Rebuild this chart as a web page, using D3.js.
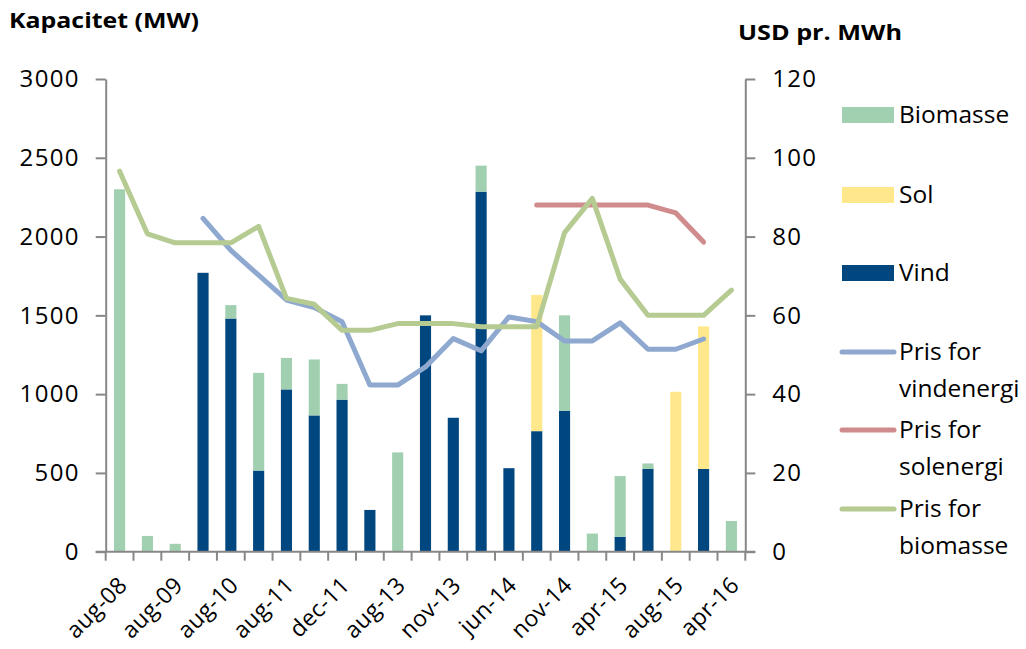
<!DOCTYPE html>
<html>
<head>
<meta charset="utf-8">
<script src="https://cdn.jsdelivr.net/npm/d3@7"></script>
<style>
  body { margin: 0; background: #fff; }
  svg { display: block; }
  text { font-family: "Open Sans", Lato, sans-serif; fill: #000; }
</style>
</head>
<body>
<svg id="chart" width="1026" height="649"></svg>
<script>
// Period labels shown on the x axis (every second period is labelled)
const tickLabels = ["aug-08", "aug-09", "aug-10", "aug-11", "dec-11", "aug-13",
                    "nov-13", "jun-14", "nov-14", "apr-15", "aug-15", "apr-16"];

// Installed capacity per period (MW)
const vind     = [0, 0, 0, 1770, 1480, 515, 1030, 865, 965, 265, 0, 1500, 850, 2285, 530, 765, 895, 0, 95, 525, 0, 525, 0];
const sol      = [0, 0, 0, 0, 0, 0, 0, 0, 0, 0, 0, 0, 0, 0, 0, 865, 0, 0, 0, 0, 1015, 905, 0];
const biomasse = [2300, 100, 50, 0, 85, 620, 200, 355, 100, 0, 630, 0, 0, 165, 0, 0, 605, 115, 385, 35, 0, 0, 195];

// Prices (USD per MWh)
const prisVind = [null, null, null, 84.6, 76.5, 70.2, 63.9, 62.0, 58.4, 42.3, 42.3, 46.9, 54.1, 51.0, 59.6, 58.4, 53.5, 53.5, 58.1, 51.4, 51.4, 54.0, null];
const prisSol  = [null, null, null, null, null, null, null, null, null, null, null, null, null, null, null, 88, 88, 88, 88, 88, 86, 78.6, null];
const prisBio  = [96.6, 80.7, 78.4, 78.4, 78.4, 82.6, 64.3, 62.8, 56.2, 56.2, 57.9, 57.9, 57.9, 57.1, 57.1, 57.1, 81.0, 89.7, 69.2, 60, 60, 60, 66.4];

const leftTicks  = [0, 500, 1000, 1500, 2000, 2500, 3000];
const rightTicks = [0, 20, 40, 60, 80, 100, 120];

const colors = {
  vind: "#00467F", sol: "#FFE88C", biomasse: "#A1D0B1",
  prisVind: "#8EA8CF", prisSol: "#D08C8C", prisBio: "#B5CB92",
  axis: "#878787"
};

const FONT = "'Open Sans', Lato, sans-serif";
const svg = d3.select("#chart");
const plot = { left: 105.7, right: 745.3, top: 79, bottom: 551.7 };

const periods = vind.map((_, i) => i);
const x = d3.scaleBand().domain(periods).range([plot.left, plot.right])
  .paddingInner(0.6).paddingOuter(0.3);
const yL = d3.scaleLinear().domain([0, 3000]).range([plot.bottom, plot.top]);
const yR = d3.scaleLinear().domain([0, 120]).range([plot.bottom, plot.top]);

// stacked capacity bars: wind at the bottom, then solar, then biomass
const rows = periods.map(i => ({ i, vind: vind[i], sol: sol[i], biomasse: biomasse[i] }));
const stack = d3.stack().keys(["vind", "sol", "biomasse"])(rows);
svg.append("g").selectAll("g").data(stack).join("g")
  .attr("fill", d => colors[d.key])
  .selectAll("rect").data(d => d.filter(p => p[1] > p[0])).join("rect")
  .attr("x", d => x(d.data.i))
  .attr("width", x.bandwidth())
  .attr("y", d => yL(d[1]))
  .attr("height", d => yL(d[0]) - yL(d[1]));

// axes
function styleAxis(g) {
  g.selectAll(".domain").attr("stroke", colors.axis).attr("stroke-width", 2);
  g.selectAll(".tick line").attr("stroke", colors.axis).attr("stroke-width", 2);
  g.selectAll(".tick text").attr("font-size", 24).attr("fill", "#000")
    .attr("letter-spacing", 1.3)
    .style("font-family", FONT);
}

svg.append("g").attr("transform", `translate(${plot.left},0)`)
  .call(d3.axisLeft(yL).tickValues(leftTicks).tickFormat(d3.format("d"))
    .tickSize(10).tickSizeOuter(0).tickPadding(16))
  .call(styleAxis);

svg.append("g").attr("transform", `translate(${plot.right},0)`)
  .call(d3.axisRight(yR).tickValues(rightTicks).tickFormat(d3.format("d"))
    .tickSize(10).tickSizeOuter(0).tickPadding(17))
  .call(styleAxis);

// x axis: ticks sit on the boundaries between periods
const step = x.step();
const boundaries = d3.range(periods.length + 1).map(k => plot.left + k * step);
const xAxis = svg.append("g");
xAxis.append("line")
  .attr("x1", plot.left - 10).attr("x2", plot.right + 10)
  .attr("y1", plot.bottom).attr("y2", plot.bottom)
  .attr("stroke", colors.axis).attr("stroke-width", 2);
xAxis.selectAll("line.tk").data(boundaries).join("line").attr("class", "tk")
  .attr("x1", d => d).attr("x2", d => d)
  .attr("y1", plot.bottom).attr("y2", plot.bottom + 9)
  .attr("stroke", colors.axis).attr("stroke-width", 2);
xAxis.selectAll("text").data(tickLabels).join("text")
  .attr("text-anchor", "end")
  .attr("font-size", 23)
  .attr("letter-spacing", 0.3)
  .attr("transform", (d, k) => {
    const cx = x(k * 2) + x.bandwidth() / 2;
    return `translate(${cx + 9},${plot.bottom + 35}) rotate(-45)`;
  })
  .text(d => d);

// price lines
const line = d3.line()
  .defined(d => d != null)
  .x((d, i) => x(i) + x.bandwidth() / 2)
  .y(d => yR(d));
[["prisVind", prisVind], ["prisSol", prisSol], ["prisBio", prisBio]].forEach(([key, vals]) => {
  svg.append("path").datum(vals)
    .attr("fill", "none")
    .attr("stroke", colors[key])
    .attr("stroke-width", 5)
    .attr("stroke-linecap", "round")
    .attr("stroke-linejoin", "round")
    .attr("d", line);
});

// axis titles
svg.append("text").attr("x", 9).attr("y", 28)
  .attr("font-size", 21).attr("font-weight", "bold")
  .attr("textLength", 190).attr("lengthAdjust", "spacingAndGlyphs")
  .text("Kapacitet (MW)");
svg.append("text").attr("x", 738).attr("y", 40)
  .attr("font-size", 21).attr("font-weight", "bold")
  .attr("textLength", 164).attr("lengthAdjust", "spacingAndGlyphs")
  .text("USD pr. MWh");

// legend
const legend = svg.append("g").attr("font-size", 24.5);
const barItems = [
  { label: "Biomasse", color: colors.biomasse, y: 115 },
  { label: "Sol", color: colors.sol, y: 195 },
  { label: "Vind", color: colors.vind, y: 273 }
];
barItems.forEach(it => {
  legend.append("rect").attr("x", 842).attr("y", it.y - 8).attr("width", 52).attr("height", 16)
    .attr("fill", it.color);
  legend.append("text").attr("x", 899).attr("y", it.y + 8).text(it.label);
});
const lineItems = [
  { lines: ["Pris for", "vindenergi"], color: colors.prisVind, y: 352 },
  { lines: ["Pris for", "solenergi"], color: colors.prisSol, y: 430 },
  { lines: ["Pris for", "biomasse"], color: colors.prisBio, y: 509 }
];
lineItems.forEach(it => {
  legend.append("line").attr("x1", 842).attr("x2", 894).attr("y1", it.y).attr("y2", it.y)
    .attr("stroke", it.color).attr("stroke-width", 5).attr("stroke-linecap", "round");
  it.lines.forEach((t, k) => {
    legend.append("text").attr("x", 899).attr("y", it.y + 8 + k * 36.5).text(t);
  });
});
</script>
</body>
</html>
